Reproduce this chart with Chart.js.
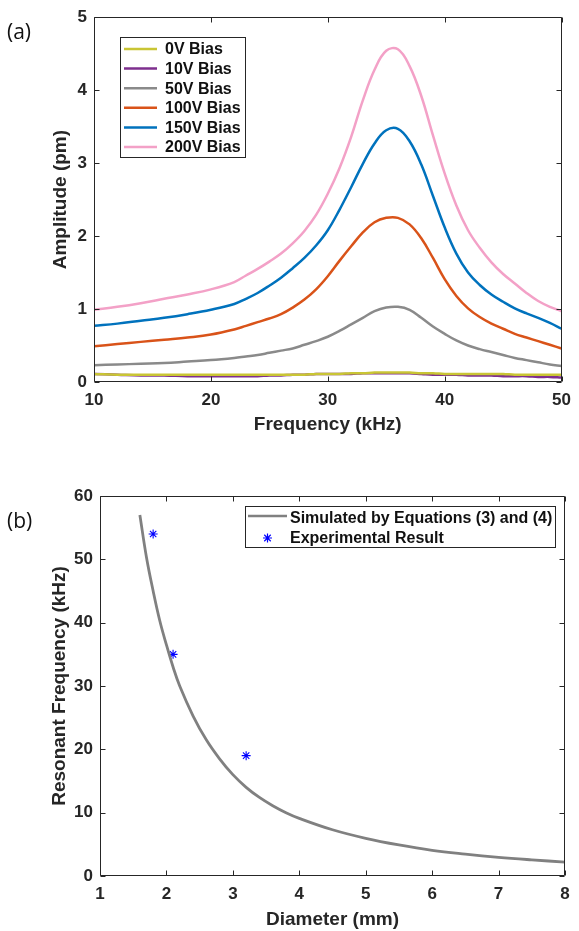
<!DOCTYPE html>
<html><head><meta charset="utf-8">
<script src="https://cdn.jsdelivr.net/npm/chart.js@4.4.1/dist/chart.umd.min.js"></script>
<style>
html,body{margin:0;padding:0;background:#fff;}
#wrap{position:relative;width:579px;height:931px;overflow:hidden;background:#fff;}
canvas{position:absolute;left:0;}
#ca{top:0;}
#cb{top:445px;}
.pl{position:absolute;left:7px;font-family:'Open Sans',sans-serif;font-size:21px;color:#111;line-height:1;}
</style></head><body>
<div id="wrap">
<canvas id="ca" width="579" height="445"></canvas>
<canvas id="cb" width="579" height="486"></canvas>
<div class="pl" style="top:21px">(a)</div>
<div class="pl" style="top:510px">(b)</div>
</div>
<script>
// ---------- (a) data ----------
const freqKHz = [10,12,14,16,18,20,22,23,24,25,26,27,28,29,30,31,32,33,34,35,36,37,38,39,40,41,42,43,44,45,46,47,48,49,50];
const bias0V   = [0.11,0.10,0.10,0.10,0.10,0.10,0.10,0.10,0.10,0.10,0.10,0.10,0.10,0.11,0.11,0.11,0.12,0.12,0.13,0.13,0.13,0.13,0.12,0.12,0.11,0.11,0.11,0.11,0.11,0.11,0.10,0.10,0.10,0.10,0.10];
const bias10V  = [0.11,0.10,0.09,0.09,0.08,0.08,0.08,0.08,0.08,0.09,0.09,0.10,0.10,0.11,0.11,0.11,0.11,0.12,0.12,0.12,0.12,0.12,0.11,0.10,0.10,0.10,0.09,0.09,0.09,0.08,0.08,0.08,0.07,0.07,0.06];
const bias50V  = [0.23,0.24,0.25,0.26,0.28,0.30,0.33,0.35,0.37,0.40,0.43,0.46,0.51,0.56,0.62,0.70,0.79,0.88,0.97,1.02,1.03,0.99,0.88,0.76,0.66,0.57,0.50,0.45,0.41,0.37,0.33,0.30,0.27,0.24,0.22];
const bias100V = [0.49,0.52,0.55,0.58,0.61,0.65,0.72,0.77,0.82,0.87,0.93,1.02,1.13,1.27,1.45,1.66,1.86,2.05,2.19,2.25,2.25,2.16,1.97,1.70,1.41,1.18,1.01,0.89,0.80,0.73,0.66,0.61,0.56,0.51,0.46];
const bias150V = [0.77,0.80,0.84,0.88,0.93,0.99,1.07,1.14,1.22,1.32,1.43,1.56,1.70,1.87,2.08,2.36,2.67,2.99,3.27,3.45,3.47,3.30,2.98,2.55,2.12,1.76,1.50,1.33,1.20,1.10,1.01,0.94,0.88,0.81,0.73];
const bias200V = [0.99,1.03,1.08,1.14,1.20,1.27,1.37,1.46,1.55,1.65,1.76,1.90,2.07,2.29,2.58,2.93,3.36,3.86,4.28,4.54,4.56,4.33,3.92,3.38,2.86,2.42,2.08,1.84,1.64,1.48,1.35,1.22,1.11,1.03,0.97];
const biasLabels = ['0V Bias','10V Bias','50V Bias','100V Bias','150V Bias','200V Bias'];
const biasColors = ['#C9C534','#7E2F8E','#8A8A8A','#D95319','#0072BD','#F3A1C7'];
const ampTicks = [0,1,2,3,4,5];
const freqTicks = [10,20,30,40,50];

// ---------- (b) data ----------
const simDiameter = [1.6,1.7,1.8,1.9,2.0,2.1,2.2,2.4,2.6,2.8,3.0,3.2,3.4,3.6,3.8,4.0,4.5,5.0,5.5,6.0,6.5,7.0,7.5,8.0];
const simFreq     = [57,50.3,45,40.3,36.5,33.0,30.0,25.3,21.5,18.5,16.0,14.0,12.4,11.1,10.0,9.1,7.3,5.95,4.9,4.05,3.45,2.95,2.55,2.2];
const expDiameter = [1.8,2.1,3.2];
const expFreq     = [54,35,19];
const bLabels = ['Simulated by Equations (3) and (4)','Experimental Result'];
const diamTicks = [1,2,3,4,5,6,7,8];
const resTicks = [0,10,20,30,40,50,60];

const AX = '#262626';
const FONT = "'Liberation Sans', Arial, sans-serif";

function pts(xs, ys){ return xs.map((x,i)=>({x:x, y:ys[i]})); }

const framePlugin = {
  id: 'frame',
  afterDatasetsDraw(chart, args, o) {
    const {ctx, chartArea:a, scales} = chart;
    ctx.save();
    ctx.strokeStyle = AX; ctx.lineWidth = 1;
    const L = Math.round(a.left)+0.5, R = Math.round(a.right)-0.5, T = Math.round(a.top)+0.5, B = Math.round(a.bottom)-0.5;
    ctx.beginPath();
    ctx.rect(L, T, R-L, B-T);
    const tl = 5;
    scales.x.ticks.forEach(t => {
      const px = Math.round(scales.x.getPixelForValue(t.value))+0.5;
      ctx.moveTo(px, B); ctx.lineTo(px, B-tl);
      ctx.moveTo(px, T); ctx.lineTo(px, T+tl);
    });
    scales.y.ticks.forEach(t => {
      const py = Math.round(scales.y.getPixelForValue(t.value))+0.5;
      ctx.moveTo(L, py); ctx.lineTo(L+tl, py);
      ctx.moveTo(R, py); ctx.lineTo(R-tl, py);
    });
    ctx.stroke();
    const lg = o.legend;
    if (lg) {
      ctx.fillStyle = '#fff';
      ctx.fillRect(lg.x, lg.y, lg.w, lg.h);
      ctx.strokeStyle = AX; ctx.lineWidth = 1;
      ctx.strokeRect(lg.x+0.5, lg.y+0.5, lg.w, lg.h);
      ctx.font = 'bold 16px ' + FONT;
      ctx.textBaseline = 'middle'; ctx.textAlign = 'left';
      chart.data.datasets.forEach((ds, i) => {
        const cy = lg.y + lg.first + i*lg.step;
        if (ds.showLine === false) {
          const r = 4.5, cx = (lg.lx0+lg.lx1)/2;
          ctx.strokeStyle = ds.borderColor; ctx.lineWidth = 1.2;
          ctx.beginPath();
          ctx.moveTo(cx, cy-r); ctx.lineTo(cx, cy+r);
          ctx.moveTo(cx-r, cy); ctx.lineTo(cx+r, cy);
          const d = r*0.72;
          ctx.moveTo(cx-d, cy-d); ctx.lineTo(cx+d, cy+d);
          ctx.moveTo(cx-d, cy+d); ctx.lineTo(cx+d, cy-d);
          ctx.stroke();
        } else {
          ctx.strokeStyle = ds.borderColor; ctx.lineWidth = 2.5;
          ctx.beginPath(); ctx.moveTo(lg.lx0, cy-(lg.lineUp||0)); ctx.lineTo(lg.lx1, cy-(lg.lineUp||0)); ctx.stroke();
        }
        ctx.fillStyle = '#111';
        ctx.fillText(ds.label, lg.tx, cy+1);
      });
    }
    ctx.restore();
  }
};

function tickFont(){ return {family: FONT, size: 17, weight: 'bold'}; }
function titleFont(){ return {family: FONT, size: 19, weight: 'bold', lineHeight: 1}; }

// ---------- chart (a) ----------
const dsA = [bias0V,bias10V,bias50V,bias100V,bias150V,bias200V].map((arr,i)=>({
  label: biasLabels[i], data: pts(freqKHz, arr), borderColor: biasColors[i], backgroundColor: biasColors[i],
  borderWidth: 2.5, pointRadius: 0, fill: false, tension: 0.4
}));
new Chart(document.getElementById('ca'), {
  type: 'line',
  data: { datasets: dsA },
  options: {
    responsive: false, animation: false, events: [],
    layout: { padding: { top: 14, right: 10, left: 0, bottom: 0 } },
    plugins: { legend: {display:false}, tooltip: {enabled:false},
      frame: { legend: { x:120, y:37, w:125, h:120, first:12, step:19.6, lx0:124, lx1:157, tx:165 } } },
    scales: {
      x: { type:'linear', min:10, max:50,
        afterBuildTicks: s => { s.ticks = freqTicks.map(v=>({value:v})); },
        afterFit: s => { s.height = 63; },
        grid: {display:false, drawTicks:false}, border:{display:false},
        ticks: { font: tickFont(), color: AX, padding: 8, maxRotation:0, autoSkip:false },
        title: { display:true, text:'Frequency (kHz)', font: titleFont(), color: AX, padding:{top:0,bottom:10.5} } },
      y: { type:'linear', min:0, max:5,
        afterBuildTicks: s => { s.ticks = ampTicks.map(v=>({value:v})); },
        afterFit: s => { s.width = 94; },
        grid: {display:false, drawTicks:false}, border:{display:false},
        ticks: { font: tickFont(), color: AX, padding: 7, autoSkip:false },
        title: { display:true, text:'Amplitude (pm)', font: titleFont(), color: AX, padding:{top:51.5,bottom:0} } }
    }
  },
  plugins: [framePlugin]
});

// ---------- chart (b) ----------
new Chart(document.getElementById('cb'), {
  type: 'line',
  data: { datasets: [
    { label: bLabels[0], data: pts(simDiameter, simFreq), borderColor:'#808080', backgroundColor:'#808080',
      borderWidth: 2.8, pointRadius: 0, fill:false, tension: 0.4 },
    { label: bLabels[1], data: pts(expDiameter, expFreq), showLine:false, borderColor:'#0000FF', backgroundColor:'#0000FF',
      pointStyle:'star', pointRadius: 4.5, pointBorderWidth: 1.1 }
  ]},
  options: {
    responsive: false, animation: false, events: [],
    layout: { padding: { top: 51, right: 14, left: 0, bottom: 0 } },
    plugins: { legend: {display:false}, tooltip: {enabled:false},
      frame: { legend: { x:245, y:61, w:310, h:41, first:12, step:20, lx0:248, lx1:287, tx:290, lineUp:2 } } },
    scales: {
      x: { type:'linear', min:1, max:8,
        afterBuildTicks: s => { s.ticks = diamTicks.map(v=>({value:v})); },
        afterFit: s => { s.height = 55; },
        grid: {display:false, drawTicks:false}, border:{display:false},
        ticks: { font: tickFont(), color: AX, padding: 8, maxRotation:0, autoSkip:false },
        title: { display:true, text:'Diameter (mm)', font: titleFont(), color: AX, padding:{top:0,bottom:1.5} } },
      y: { type:'linear', min:0, max:60,
        afterBuildTicks: s => { s.ticks = resTicks.map(v=>({value:v})); },
        afterFit: s => { s.width = 100; },
        grid: {display:false, drawTicks:false}, border:{display:false},
        ticks: { font: tickFont(), color: AX, padding: 7, autoSkip:false },
        title: { display:true, text:'Resonant Frequency (kHz)', font: titleFont(), color: AX, padding:{top:50.5,bottom:0} } }
    }
  },
  plugins: [framePlugin]
});
</script>
</body></html>
